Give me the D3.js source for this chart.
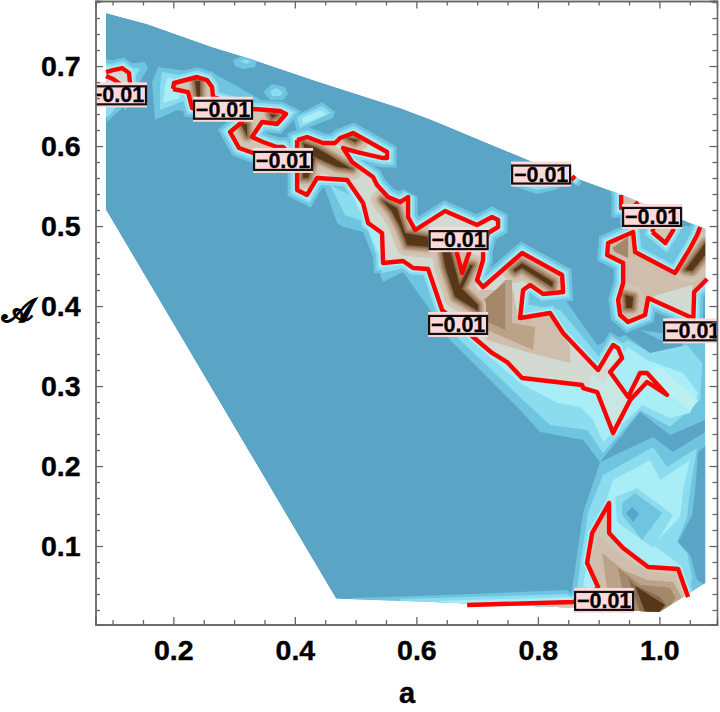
<!DOCTYPE html>
<html><head><meta charset="utf-8">
<script src="https://cdnjs.cloudflare.com/ajax/libs/d3/7.8.5/d3.min.js"></script>
<style>html,body{margin:0;padding:0;background:#fff}svg{display:block}</style>
</head><body><svg id="c" width="720" height="712"></svg>
<script>
// ---------- values, all in (a, A) data units ----------
const xMajor = [0.2,0.4,0.6,0.8,1.0];
const xMinor = [0.1,0.15,0.25,0.3,0.35,0.45,0.5,0.55,0.65,0.7,0.75,0.85,0.9,0.95,1.05];
const yMajor = [0.1,0.2,0.3,0.4,0.5,0.6,0.7];
const yMinor = [0.02,0.04,0.06,0.08,0.12,0.14,0.16,0.18,0.22,0.24,0.26,0.28,0.32,0.34,0.36,0.38,0.42,0.44,0.46,0.48,0.52,0.54,0.56,0.58,0.62,0.64,0.66,0.68,0.72,0.74,0.76,0.78];
const xLabel = "a", yLabel = "\uD835\uDC9C", contourLabel = "\u22120.01";
const domainEdge = [[.0892,.7663],[.1567,.7525],[.265,.7235],[.3213,.7105],[.43,.6825],[.5732,.6475],[.6258,.6325],[.7921,.58],[.858,.5613],[.9304,.5413],[1.0671,.4988],[1.0753,.4963],[1.0753,.0538],[.9996,.0175],[.853,.0231],[.6061,.0306],[.4678,.0341],[.0892,.52]];
const labelAt = [[.1073,.664],[.2818,.646],[.3806,.582],[.6695,.483],[.8053,.565],[.988,.512],[.6687,.377],[1.0555,.369],[.909,.032]];

// the -0.01 contour
const redA = [[.0892,.6875],[.1007,.6838],[.1123,.6775],[.1205,.6675],[.1287,.6788],[.1271,.6913],[.1156,.6975],[.1007,.695],[.0892,.6925]];
const redB = [[.1995,.6713],[.2012,.6788],[.239,.6863],[.2555,.6825],[.2637,.6738],[.2654,.6613],[.3312,.6463],[.3756,.6438],[.3855,.64],[.3707,.6275],[.346,.63],[.3295,.6113],[.3476,.605],[.3707,.5988],[.3806,.5988],[.3921,.5888],[.3312,.5913],[.3081,.5975],[.2933,.6175],[.3131,.63],[.2966,.6425],[.2308,.6475],[.2242,.6675],[.1995,.6713]];
const redC = [[.4037,.6075],[.4201,.6113],[.4465,.6038],[.4662,.6038],[.4745,.61],[.4959,.6163],[.5518,.5925],[.5518,.585],[.5452,.585],[.5024,.5925],[.4794,.5975],[.4942,.58],[.5287,.5613],[.5353,.5513],[.5534,.5363],[.5732,.53],[.5864,.5363],[.5864,.5113],[.5979,.495],[.6473,.5188],[.6999,.5013],[.7246,.5113],[.7345,.5075],[.7345,.4988],[.718,.4913],[.7098,.47],[.7098,.4575],[.6999,.4325],[.7098,.4238],[.774,.4663],[.8399,.4388],[.8415,.4175],[.8086,.415],[.7872,.4263],[.7757,.42],[.7707,.385],[.8201,.3913],[.8415,.3663],[.8991,.32],[.9238,.3513],[.932,.3475],[.9386,.335],[.9189,.3175],[.9485,.2863],[.9682,.3163],[.9797,.3163],[1.0126,.2888],[.9797,.305],[.9518,.2825],[.9238,.2413],[.8975,.2925],[.8744,.2975],[.8728,.3013],[.774,.31],[.7493,.33],[.7246,.3413],[.6933,.3613],[.6423,.395],[.6193,.4463],[.5946,.4475],[.5781,.4563],[.5452,.4538],[.5435,.4913],[.5205,.5038],[.5123,.5288],[.486,.5575],[.4366,.56],[.4201,.5388],[.4037,.545],[.4037,.6075]];
const redD = [[.6656,.47],[.6752,.4413],[.6884,.47],[.6769,.4825],[.6656,.47]];
const redE = [[.8547,.5575],[.8613,.5625]];
const redF = [[.937,.5388],[.937,.5225],[.9551,.5225],[.965,.53]];
const redG = [[.9884,.4925],[1.0098,.4788],[1.0229,.495],[1.0213,.505],[.9933,.505],[.9884,.4925]];
const redH = [[1.0671,.4988],[1.0621,.4888],[1.0506,.4725],[1.0259,.4413],[.96,.4675],[.9567,.4925],[.9156,.4788],[.914,.4638],[.9403,.4538],[.9403,.4288],[.932,.4075],[.9353,.3888],[.9485,.38],[.9765,.3888],[.9814,.41],[1.0506,.3863],[1.0555,.3763],[1.0572,.4175],[1.0786,.4338]];
const redI = [[.6835,.0263],[.8579,.03],[.886,.0388],[.8991,.0488],[.881,.0788],[.8893,.1163],[.9172,.1538],[.9172,.1163],[.9403,.0975],[.9814,.0738],[1.0308,.0713],[1.0473,.0363]];
// how the open lines close beyond the clipped edge when filled
const closeF = [[.965,.56],[.93,.56]];
const closeH = [[1.09,.4338],[1.09,.51]];
const closeI = [[1.0588,.0075],[.6835,.0175]];

// outermost cyan band
const band1 = [
 [[.2983,.7075],[.318,.7138],[.3378,.7075],[.3345,.6988],[.3147,.6963],[.3016,.70]],
 [[.3477,.6675],[.3625,.6775],[.3839,.6738],[.3888,.665],[.3806,.6575],[.3592,.6575]],
 [[.3971,.6363],[.4448,.655],[.4662,.6425],[.4629,.635],[.4037,.6175]],
 [[.0892,.7088],[.1205,.7025],[.1534,.705],[.1583,.6975],[.1419,.6763],[.1172,.6488],[.0909,.63]],
 [[.1649,.6788],[.1748,.6988],[.211,.695],[.2654,.6913],[.3098,.6725],[.3592,.6513],[.3098,.6388],[.2308,.6425],[.2061,.645],[.1699,.6325]],
 [[.4464,.5538],[.4695,.5038],[.4794,.4988],[.5123,.4925],[.5452,.43],[.5781,.4425],[.6193,.3988],[.6505,.3613],[.6835,.3363],[.7707,.27],[.8036,.2425],[.8744,.2325],[.9025,.205],[.9683,.2675],[1.0176,.2388],[1.0753,.2575],[1.0868,.3575],[.9683,.37],[.8975,.3513],[.8415,.4113],[.7707,.4075],[.6884,.4075],[.5732,.5325],[.4909,.57]],
 [[.8497,.0175],[.8563,.045],[.8744,.1413],[.9025,.205],[.9897,.2363],[1.0226,.2175],[1.0671,.2388],[1.0868,.245],[1.0868,.045],[1.0012,.0075]],
 [[.4925,.035],[.6061,.0375],[.8497,.045],[.8613,.0175],[.4925,.0263]],
 [[.7543,.5513],[.7987,.54],[.8283,.545],[.8662,.56],[.8366,.57],[.7543,.57]],
 [[.9353,.5388],[.9353,.5013],[1.0671,.50],[1.0506,.4638],[1.0259,.4325],[.96,.4638]]
];
// back to the base colour
const baseGaps = [
 [[.9436,.3638],[.9847,.3413],[1.0341,.3263],[1.0391,.345],[1.0374,.3538],[1.0012,.3575],[.9683,.37]],
 [[1.0868,.2325],[1.0638,.2175],[1.0588,.17],[1.0539,.1388],[1.0308,.105],[1.0506,.0888],[1.0621,.0575],[1.0868,.045]]
];
const band2 = [
 [[.3098,.7063],[.3197,.7088],[.3279,.705],[.3197,.7025]],
 [[.3592,.6688],[.3691,.6725],[.3806,.6675],[.3757,.6625],[.3625,.6625]],
 [[.4037,.6363],[.4448,.65],[.4596,.6413],[.4086,.6225]],
 [[.0892,.7038],[.1287,.6975],[.1452,.6975],[.1287,.6725],[.0958,.6388],[.0892,.635]],
 [[.1781,.6763],[.1814,.6925],[.211,.6888],[.2357,.685],[.2209,.6575],[.1781,.645]],
 [[.458,.5513],[.4827,.5138],[.5156,.505],[.5435,.4413],[.5814,.4475],[.6143,.4388],[.639,.3825],[.672,.3575],[.7757,.2825],[.8201,.2513],[.881,.245],[.9074,.2163],[.9683,.27],[1.0176,.2488],[1.0671,.2825],[1.0704,.3288],[1.0456,.3513],[.9847,.3413],[.9485,.3575],[.9025,.335],[.8366,.395],[.7379,.4075],[.5732,.5075]],
 [[.8646,.0488],[.8827,.1425],[.9074,.1888],[.9897,.2238],[1.0127,.1988],[1.0621,.2225],[1.0506,.17],[1.0456,.1363],[1.0291,.105],[1.0456,.0913],[1.0539,.0613],[1.0473,.035],[.9025,.0325]],
 [[.5732,.0338],[.8497,.04],[.8613,.0175],[.5732,.0263]],
 [[.7625,.5525],[.7987,.545],[.853,.5525],[.8596,.56],[.83,.57]]
];
const band3 = [
 [[.4119,.635],[.4415,.645],[.453,.64],[.4135,.6275]],
 [[.0892,.70],[.137,.6925],[.1254,.6675],[.0925,.6513]],
 [[.1863,.6763],[.1913,.6863],[.2061,.6825],[.211,.66],[.183,.6538]],
 [[.4827,.555],[.5107,.5138],[.5452,.4513],[.5781,.4525],[.6193,.4425],[.6472,.3888],[.6884,.3575],[.7707,.3038],[.8316,.2788],[.8695,.2738],[.8909,.2575],[.9074,.23],[.9716,.2763],[1.0176,.26],[1.0506,.2663],[1.0638,.2913],[1.0391,.3163],[.9798,.3325],[.9485,.3488],[.9353,.335],[.9025,.3138],[.7379,.3825],[.5732,.495]],
 [[.8744,.0513],[.8909,.12],[.9107,.1538],[.9239,.1825],[.9848,.2075],[1.0012,.1825],[1.0506,.2075],[1.0391,.17],[1.0341,.1363],[.9897,.1013],[1.0341,.0763],[1.044,.045],[.9025,.0325]],
 [[.639,.0313],[.853,.0363],[.8613,.0175],[.639,.02]]
];
const band4 = [[[.97,.3163],[1.0506,.2688],[1.0638,.2825],[1.0,.3238]]];
const lake2 = [[.9271,.1613],[.9633,.1725],[1.0226,.1388],[.9897,.0975],[.9304,.13]];
const lake1 = [[.9386,.1538],[.96,.1663],[1.0045,.1413],[.9715,.1075],[.9386,.1388]];
const lake0 = [[.9452,.1413],[.9551,.1488],[.9666,.14],[.9567,.13]];

// inside the red contour
const ridgeLight = [[.3921,.6263],[.5732,.545],[.774,.47],[.8531,.4075],[.9189,.32],[.9074,.305],[.886,.3138],[.886,.2825],[.7379,.2825],[.5732,.42],[.4909,.5075],[.3921,.52]];
const rightLight = [[.9962,.4138],[1.0539,.4263],[1.0555,.385],[.9814,.4075]];
const midTan3 = [[.7592,.42],[.7674,.385],[.8201,.3913],[.8531,.3488],[.8531,.3288],[.7872,.3413],[.7165,.3575],[.6884,.3888],[.7049,.42]];
const midTan2 = [[.7461,.4325],[.7576,.4325],[.7576,.3788],[.7954,.3738],[.7921,.345],[.7428,.3613],[.7165,.37],[.7,.395]];
const midTan1 = [[.7049,.4038],[.7461,.43],[.7461,.37],[.718,.38]];
const rightBlob = [[.9221,.4725],[.9485,.4863],[.9485,.46],[.927,.4675]];
const darkCores = [
 [[.5435,.5325],[.5682,.5225],[.5814,.4913],[.6193,.4863],[.6209,.4738],[.5847,.4763],[.5732,.4988],[.56,.5175]],
 [[.6423,.47],[.6555,.47],[.672,.4238],[.7016,.4013],[.7016,.3938],[.6637,.4113],[.6473,.4488]],
 [[.6933,.4513],[.672,.4163],[.667,.42],[.6884,.4513]],
 [[.7592,.445],[.774,.4538],[.825,.43],[.8234,.4238],[.774,.4475],[.7625,.4425]],
 [[.4135,.6038],[.4365,.5975],[.4941,.5713],[.4695,.5738],[.4333,.5863],[.4168,.595]],
 [[.4333,.5863],[.4217,.56],[.4135,.56],[.4135,.57]],
 [[.486,.61],[.5041,.6075],[.4991,.605]],
 [[.2357,.6813],[.244,.6813],[.244,.6613],[.239,.6613]],
 [[.3114,.6275],[.3213,.6275],[.3213,.6125]],
 [[.3592,.64],[.3707,.6388],[.3625,.635]],
 [[.9436,.4138],[.9567,.4113],[.955,.3975],[.9452,.3975]],
 [[1.0424,.445],[1.0753,.4788],[1.0753,.4638],[1.0539,.4438]]
];
const bottomTan1 = [[.8991,.1138],[.9436,.085],[.9847,.0675],[1.0259,.0638],[1.0391,.0363],[1.0341,.0175],[.9025,.0175],[.8975,.045],[.886,.0763]];
const bottomTan2 = [[.9058,.0913],[.9403,.07],[.9798,.0575],[1.0226,.055],[1.0374,.035],[1.0259,.0263],[1.0259,.0175],[.9189,.0175]];
const bottomTan3 = [[.9321,.0725],[.9683,.0513],[1.0176,.0475],[1.0259,.035],[1.0127,.02],[.9469,.0175]];
const bottomTan4 = [[.9485,.06],[.96,.0513],[1.0012,.0363],[1.0111,.0263],[1.0012,.0175],[.9683,.0175]];
const bottomDark = [[.9601,.05],[1.0094,.0263],[.9996,.0175],[.9765,.0175]];

// ---------- drawing ----------
const C = {base:"#5aa5c6",c1:"#6fc4df",c2:"#8bdcef",c3:"#a9edf6",c4:"#bbeff2",pale:"#c8e6e2",grey:"#d3dad2",sand:"#d0c6b6",t1:"#cfbeac",t2:"#bba389",t3:"#a5876a",t4:"#8a6b4d",dark:"#583618"};
const svg = d3.select("#c");
const x = d3.scaleLinear().domain([.0719,1.0948]).range([95.5,717]);
const y = d3.scaleLinear().domain([.0019,.7813]).range([624.5,1]);
const line = d3.line().x(d=>x(d[0])).y(d=>y(d[1]));
const closed = d3.line().x(d=>x(d[0])).y(d=>y(d[1])).curve(d3.curveLinearClosed);
const defs = svg.append("defs");
defs.append("clipPath").attr("id","dom").append("path").attr("d",closed(domainEdge));
defs.append("clipPath").attr("id","frame").append("rect").attr("x",95.5).attr("y",1).attr("width",621.5).attr("height",623.5);

const fillSets = [
 {pts:redA,fill:C.grey},{pts:redB,fill:C.sand},{pts:redC,fill:C.pale},
 {pts:redF.concat(closeF),fill:C.t1},{pts:redG,fill:C.sand},{pts:redH.concat(closeH),fill:C.t1},{pts:redI.concat(closeI),fill:C.sand}
];
const inner = defs.append("clipPath").attr("id","inner");
[redA,redB,redC,redF.concat(closeF),redH.concat(closeH),redI.concat(closeI),redG].forEach(p=>inner.append("path").attr("d",closed(p)));

const g = svg.append("g").attr("clip-path","url(#dom)");
g.append("path").attr("d",closed(domainEdge)).attr("fill",C.base);
const glowPolys = [redA,redB,redC,redE,redF.concat(closeF),redG,redH.concat(closeH),redI.concat(closeI)];
function band(list,col,w){
  list.forEach(p=>g.append("path").attr("d",closed(p)).attr("fill",col));
  glowPolys.forEach(p=>g.append("path").attr("d",closed(p)).attr("fill",col).attr("stroke",col).attr("stroke-width",w).attr("stroke-linejoin","miter").attr("stroke-miterlimit",2));
}
band(band1,C.c1,19);
baseGaps.forEach(p=>g.append("path").attr("d",closed(p)).attr("fill",C.base));
band(band2,C.c2,13);
band(band3,C.c3,8);
band4.forEach(p=>g.append("path").attr("d",closed(p)).attr("fill",C.c4));
[[lake2,C.c2],[lake1,C.c1],[lake0,C.base]].forEach(([p,c])=>g.append("path").attr("d",closed(p)).attr("fill",c));
fillSets.forEach(f=>g.append("path").attr("d",closed(f.pts)).attr("fill",f.fill));

const ins = g.append("g").attr("clip-path","url(#inner)");
const polyFill=(p,c)=>ins.append("path").attr("d",closed(p)).attr("fill",c);
polyFill(ridgeLight,C.grey);
// tan halos around the dark ridge lines
[[22,C.sand],[16,C.t1],[11,C.t2],[7,C.t3],[3.5,C.t4]].forEach(([w,c])=>{
  darkCores.forEach(p=>ins.append("path").attr("d",closed(p)).attr("fill",c).attr("stroke",c).attr("stroke-width",w).attr("stroke-linejoin","round"));
  if(c===C.sand){polyFill(midTan3,C.t1);polyFill(midTan2,C.t2);polyFill(midTan1,C.t3);polyFill(rightLight,C.grey);polyFill(rightBlob,C.t3);
    polyFill(bottomTan1,C.t1);polyFill(bottomTan2,C.t2);polyFill(bottomTan3,C.t3);polyFill(bottomTan4,C.t4);polyFill(bottomDark,C.dark);}
});
darkCores.forEach(p=>polyFill(p,C.dark));
polyFill(bottomTan3,C.t3);polyFill(bottomTan4,C.t4);polyFill(bottomDark,C.dark);
polyFill(redD,C.t1);

// red contour
const redG2 = svg.append("g").attr("clip-path","url(#frame)");
[redA,redB,redC,redD,redE,redF,redG,redH,redI].forEach(p=>redG2.append("path").attr("d",line(p)).attr("fill","none").attr("stroke","#ff0000").attr("stroke-width",4.4).attr("stroke-linejoin","round"));

// contour labels
const lab = svg.append("g").attr("clip-path","url(#frame)");
labelAt.forEach(d=>{
  const cx=x(d[0]),cy=y(d[1]);
  lab.append("rect").attr("x",cx-30).attr("y",cy-12.5).attr("width",60).attr("height",25).attr("fill","#ffd9d9");
  lab.append("rect").attr("x",cx-29).attr("y",cy-8.5).attr("width",58).attr("height",18).attr("fill","none").attr("stroke","#111").attr("stroke-width",2.2);
  lab.append("text").attr("x",cx).attr("y",cy+7.5).attr("text-anchor","middle").attr("font-family","'Liberation Sans',Arial,sans-serif").attr("font-weight",700).attr("font-size",21.5).attr("fill","#000").attr("stroke","#000").attr("stroke-width",.3).text(contourLabel);
});

// frame and ticks
const grey="#666";
function ax(gen,tr,major,minor,labels){
  const a=svg.append("g").attr("transform",tr);
  const s=gen.tickValues(minor).tickSize(-4.5).tickFormat("");
  a.call(s);
  const b=svg.append("g").attr("transform",tr);
  b.call(gen.tickValues(major).tickSize(-7.5).tickPadding(labels?15:0).tickFormat(labels?d3.format(".1f"):""));
  [a,b].forEach(k=>{k.selectAll("path,line").attr("stroke",grey).attr("stroke-width",1.3);});
  b.selectAll("text").attr("font-family","'Liberation Sans',Arial,sans-serif").attr("font-weight",700).attr("font-size",28.5).attr("fill","#000").attr("stroke","#000").attr("stroke-width",.4);
}
ax(d3.axisBottom(x),"translate(0,624.5)",xMajor,xMinor,true);
ax(d3.axisTop(x),"translate(0,1)",xMajor,xMinor,false);
ax(d3.axisLeft(y),"translate(95.5,0)",yMajor,yMinor,true);
ax(d3.axisRight(y),"translate(717,0)",yMajor,yMinor,false);
svg.selectAll(".domain").attr("stroke",grey).attr("stroke-width",1.3);

svg.append("text").attr("x",407).attr("y",703).attr("text-anchor","middle").attr("font-family","'Liberation Sans',Arial,sans-serif").attr("font-weight",700).attr("font-size",29).attr("stroke","#000").attr("stroke-width",.4).text(xLabel);
svg.append("text").attr("x",17).attr("y",322).attr("text-anchor","middle").attr("font-family","'DejaVu Sans','Noto Sans',serif").attr("font-weight",700).attr("font-size",33).attr("stroke","#000").attr("stroke-width",.8).text(yLabel);
</script></body></html>
